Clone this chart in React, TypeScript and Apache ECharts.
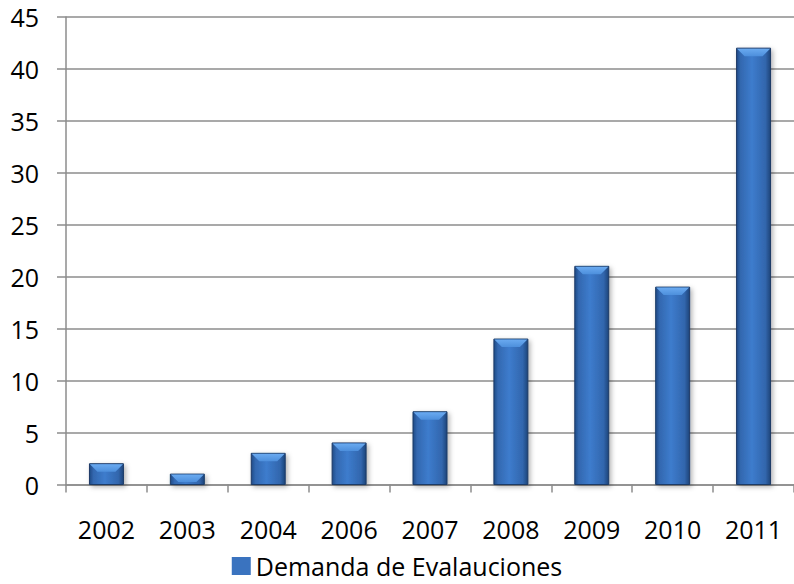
import React, { useEffect, useRef } from "react";
import * as echarts from "echarts";

const categories = ["2002", "2003", "2004", "2006", "2007", "2008", "2009", "2010", "2011"];
const values = [2, 1, 3, 4, 7, 14, 21, 19, 42];
const seriesName = "Demanda de Evalauciones";

const FONT = "'Open Sans', 'Liberation Sans', sans-serif";

export default function App() {
  const ref = useRef<HTMLDivElement>(null);

  useEffect(() => {
    if (!ref.current) return;
    const chart = echarts.init(ref.current, null, { renderer: "svg" });

    const renderItem = (params: any, api: any) => {
      const top = api.coord([api.value(0), api.value(1)]);
      const base = api.coord([api.value(0), 0]);
      const w = api.size([1, 0])[0] * 0.42;
      const l = top[0] - w / 2;
      const r = top[0] + w / 2;
      const h = base[1] - top[1];
      const b = Math.min(8, h * 0.8, w / 2);
      return {
        type: "group",
        children: [
          {
            type: "rect",
            shape: { x: l, y: top[1], width: w, height: h },
            style: {
              fill: {
                type: "linear",
                x: 0, y: 0, x2: 1, y2: 0,
                colorStops: [
                  { offset: 0, color: "#1f4a86" },
                  { offset: 0.12, color: "#3368b0" },
                  { offset: 0.45, color: "#3d7ccd" },
                  { offset: 0.85, color: "#3266ad" },
                  { offset: 1, color: "#1d4479" },
                ],
              },
              stroke: "#1b3a66",
              lineWidth: 1,
              shadowBlur: 5,
              shadowOffsetX: 2,
              shadowOffsetY: 2,
              shadowColor: "rgba(0,0,0,0.3)",
            },
          },
          {
            type: "polygon",
            shape: {
              points: [
                [l + 0.5, top[1] + 0.5],
                [r - 0.5, top[1] + 0.5],
                [r - b, top[1] + b],
                [l + b, top[1] + b],
              ],
            },
            style: {
              fill: {
                type: "linear",
                x: 0, y: 0, x2: 0, y2: 1,
                colorStops: [
                  { offset: 0, color: "#6aaaf0" },
                  { offset: 1, color: "#4d8fdc" },
                ],
              },
            },
          },
        ],
      };
    };

    chart.setOption({
      animation: false,
      backgroundColor: "#ffffff",
      grid: { left: 66, right: 0, top: 17, bottom: 99.5, containLabel: false },
      legend: {
        data: [seriesName],
        top: 552,
        left: "center",
        padding: 0,
        icon: "rect",
        itemWidth: 19,
        itemHeight: 18,
        itemGap: 6,
        textStyle: { fontFamily: FONT, fontSize: 25, color: "#000", lineHeight: 28 },
      },
      xAxis: {
        type: "category",
        data: categories,
        axisLine: { show: true, lineStyle: { color: "#8c8c8c", width: 1.5 } },
        axisTick: { show: true, length: 8, lineStyle: { color: "#8c8c8c", width: 1.5 } },
        axisLabel: { fontFamily: FONT, fontSize: 25, color: "#000", margin: 32 },
        splitLine: { show: false },
      },
      yAxis: {
        type: "value",
        min: 0,
        max: 45,
        interval: 5,
        axisLine: { show: true, lineStyle: { color: "#8c8c8c", width: 1.5 } },
        axisTick: { show: true, length: 9, lineStyle: { color: "#8c8c8c", width: 1.5 } },
        axisLabel: { fontFamily: FONT, fontSize: 25, color: "#000", margin: 27 },
        splitLine: { show: true, lineStyle: { color: "#8c8c8c", width: 1.5 } },
      },
      series: [
        {
          name: seriesName,
          type: "custom",
          renderItem,
          itemStyle: { color: "#3a73bf" },
          encode: { x: 0, y: 1 },
          data: categories.map((c, i) => [i, values[i]]),
        },
      ],
    });

    return () => chart.dispose();
  }, []);

  return <div ref={ref} style={{ width: 794, height: 584, position: "absolute", left: 0, top: 0 }} />;
}
